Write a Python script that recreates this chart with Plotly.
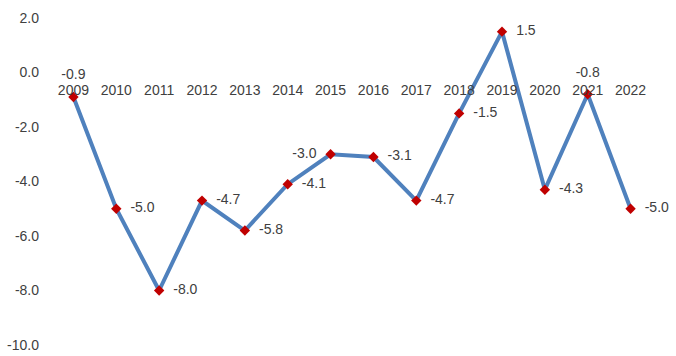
import plotly.graph_objects as go

years = ["2009", "2010", "2011", "2012", "2013", "2014", "2015", "2016",
         "2017", "2018", "2019", "2020", "2021", "2022"]
values = [-0.9, -5.0, -8.0, -4.7, -5.8, -4.1, -3.0, -3.1, -4.7, -1.5, 1.5, -4.3, -0.8, -5.0]
label_pos = ["top center", "middle right", "middle right", "middle right", "middle right",
             "middle right", "middle left", "middle right", "middle right", "middle right",
             "middle right", "middle right", "top center", "middle right"]
y_ticks = [2, 0, -2, -4, -6, -8, -10]

font = dict(family="Liberation Sans, Arial, sans-serif", size=14, color="#404040")

fig = go.Figure()
fig.add_trace(go.Scatter(
    x=years, y=values,
    mode="lines+markers",
    line=dict(color="#4F81BD", width=4),
    marker=dict(symbol="diamond", size=8, color="#C00000"),
    hoverinfo="skip",
))
# data labels (transparent larger markers give the label offset)
fig.add_trace(go.Scatter(
    x=years, y=values,
    mode="markers+text",
    marker=dict(size=21, color="rgba(0,0,0,0)"),
    text=[f"{v:.1f}" for v in values],
    textposition=label_pos,
    textfont=font,
    cliponaxis=False,
    hoverinfo="skip",
))

fig.update_layout(
    width=676, height=356,
    margin=dict(l=52, r=24, t=18, b=11),
    paper_bgcolor="white", plot_bgcolor="white",
    showlegend=False,
    font=font,
    xaxis=dict(
        type="category",
        range=[-0.5, len(years) - 0.5],
        anchor="free", position=10/12,
        showline=False, showgrid=False, zeroline=False,
        ticks="outside", ticklen=5, tickcolor="rgba(0,0,0,0)",
        tickfont=font, automargin=False,
    ),
    yaxis=dict(
        range=[-10, 2],
        tickvals=y_ticks,
        ticktext=[f"{v:.1f}" for v in y_ticks],
        showgrid=False, zeroline=False, showline=False,
        ticklabelstandoff=12,
        tickfont=font, automargin=False,
    ),
)

fig.write_html(
    "out.html",
    config={"displayModeBar": False},
    post_script="document.body.style.margin='0';document.body.style.overflow='hidden';",
)
